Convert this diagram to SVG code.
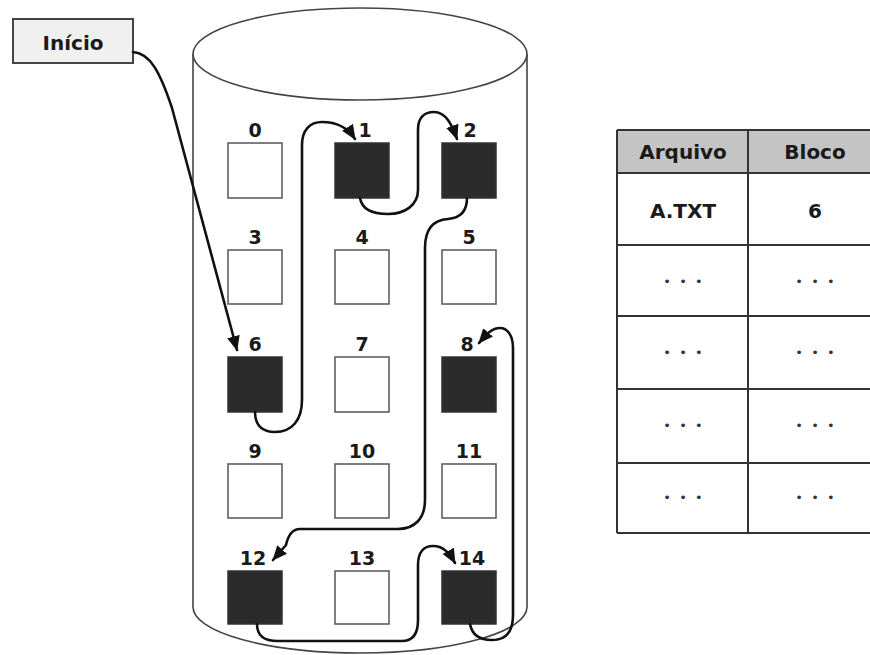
<svg xmlns="http://www.w3.org/2000/svg" width="870" height="655" viewBox="0 0 870 655">
<style>
.lbl{font-family:"DejaVu Sans",sans-serif;font-weight:bold;font-size:19px;fill:#1a1a1a;text-anchor:middle}
.tt{font-family:"DejaVu Sans",sans-serif;font-weight:bold;font-size:20px;fill:#1a1a1a;text-anchor:middle}
.dots{font-family:"DejaVu Sans",sans-serif;font-size:13px;letter-spacing:2px;fill:#333;text-anchor:middle}
.sq{fill:#fff;stroke:#555;stroke-width:1.5}
.sqd{fill:#2b2b2b;stroke:#333;stroke-width:1.5}
.cyl{fill:#fff;stroke:#444;stroke-width:1.6}
.tl{stroke:#333;stroke-width:2;fill:none}
.con{fill:none;stroke:#111;stroke-width:2.6;stroke-linecap:round}
</style>
<defs>
<marker id="ah" viewBox="0 0 14 12" refX="13" refY="6" markerWidth="15" markerHeight="13" markerUnits="userSpaceOnUse" orient="auto">
<path d="M0,0 L14,6 L0,12 Z" fill="#111"/>
</marker>
</defs>
<rect width="870" height="655" fill="#fff"/>
<g id="cylinder">
<path class="cyl" d="M193,54 L193,607 A167,46 0 0 0 527,607 L527,54"/>
<ellipse class="cyl" cx="360" cy="54" rx="167" ry="46"/>
</g>
<g id="inicio">
<rect x="13" y="19" width="120" height="44" fill="#f0f0f0" stroke="#444" stroke-width="2"/>
<text class="tt" x="73" y="50" font-size="21">Início</text>
</g>
<g id="b0"><rect class="sq" x="228" y="143" width="54" height="55"/><text class="lbl" x="255" y="137">0</text></g>
<g id="b1"><rect class="sqd" x="335" y="143" width="54" height="55"/><text class="lbl" x="365" y="137">1</text></g>
<g id="b2"><rect class="sqd" x="442" y="143" width="54" height="55"/><text class="lbl" x="470" y="137">2</text></g>
<g id="b3"><rect class="sq" x="228" y="250" width="54" height="54"/><text class="lbl" x="255" y="244">3</text></g>
<g id="b4"><rect class="sq" x="335" y="250" width="54" height="54"/><text class="lbl" x="362" y="244">4</text></g>
<g id="b5"><rect class="sq" x="442" y="250" width="54" height="54"/><text class="lbl" x="469" y="244">5</text></g>
<g id="b6"><rect class="sqd" x="228" y="357" width="54" height="55"/><text class="lbl" x="255" y="351">6</text></g>
<g id="b7"><rect class="sq" x="335" y="357" width="54" height="55"/><text class="lbl" x="362" y="351">7</text></g>
<g id="b8"><rect class="sqd" x="442" y="357" width="54" height="55"/><text class="lbl" x="467" y="351">8</text></g>
<g id="b9"><rect class="sq" x="228" y="464" width="54" height="54"/><text class="lbl" x="255" y="458">9</text></g>
<g id="b10"><rect class="sq" x="335" y="464" width="54" height="54"/><text class="lbl" x="362" y="458">10</text></g>
<g id="b11"><rect class="sq" x="442" y="464" width="54" height="54"/><text class="lbl" x="469" y="458">11</text></g>
<g id="b12"><rect class="sqd" x="228" y="571" width="54" height="53"/><text class="lbl" x="253" y="565">12</text></g>
<g id="b13"><rect class="sq" x="335" y="571" width="54" height="53"/><text class="lbl" x="362" y="565">13</text></g>
<g id="b14"><rect class="sqd" x="442" y="571" width="54" height="53"/><text class="lbl" x="472" y="565">14</text></g>
<g id="connectors">
<path class="con" marker-end="url(#ah)" d="M133,52 C150,53 160,72 172,108 L237,350"/>
<path class="con" marker-end="url(#ah)" d="M255,412 C255,426 263,432 275,432 C292,432 302,420 302,400 L302,145 C302,130 310,122 322,122 C338,122 348,128 355,139"/>
<path class="con" marker-end="url(#ah)" d="M360,198 C362,210 374,214 388,214 C405,214 418,205 418,190 L418,130 C418,118 424,112 434,112 C446,112 452,125 457,139"/>
<path class="con" marker-end="url(#ah)" d="M467,198 C467,212 460,218 448,219 C432,220 425,230 425,248 L425,500 C425,518 415,529 398,529 L300,529 C292,529 288,536 286,545 L273,560"/>
<path class="con" marker-end="url(#ah)" d="M257,624 C257,636 264,641 278,641 L402,641 C414,641 418,632 418,620 L418,565 C418,552 424,546 433,546 C444,546 450,554 455,563"/>
<path class="con" marker-end="url(#ah)" d="M470,624 C472,635 480,640 492,640 C506,640 513,632 513,615 L513,348 C513,335 507,328 500,328 C491,328 485,336 479,343"/>
</g>
<g id="table">
<rect x="617" y="130" width="260" height="43" fill="#c4c4c4"/>
<path class="tl" d="M617,130 L870,130 M617,173 L870,173 M617,245 L870,245 M617,316 L870,316 M617,389 L870,389 M617,463 L870,463 M617,533 L870,533 M617,130 L617,533 M748,130 L748,533"/>
<text class="tt" x="683" y="159">Arquivo</text>
<text class="tt" x="815" y="159">Bloco</text>
<text class="tt" x="683" y="218">A.TXT</text>
<text class="tt" x="815" y="218">6</text>
<text class="dots" x="684" y="286">• • •</text>
<text class="dots" x="816" y="286">• • •</text>
<text class="dots" x="684" y="357">• • •</text>
<text class="dots" x="816" y="357">• • •</text>
<text class="dots" x="684" y="430">• • •</text>
<text class="dots" x="816" y="430">• • •</text>
<text class="dots" x="684" y="502">• • •</text>
<text class="dots" x="816" y="502">• • •</text>
</g>
</svg>
